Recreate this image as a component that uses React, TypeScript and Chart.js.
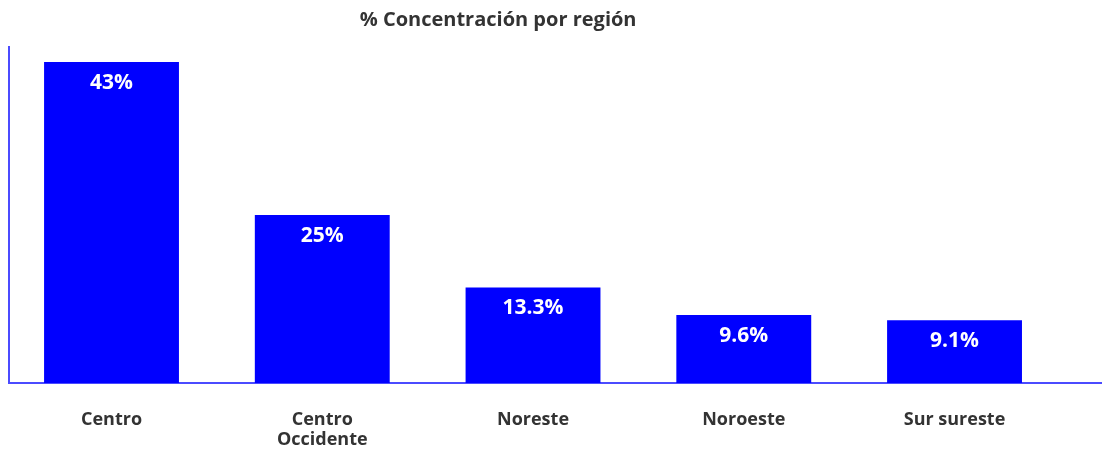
import React, { useEffect, useRef } from "react";
import { Chart, registerables } from "chart.js";

Chart.register(...registerables);

const categories: (string | string[])[] = ["Centro", ["Centro", "Occidente"], "Noreste", "Noroeste", "Sur sureste"];
const barValues: number[] = [43, 22.5, 12.8, 9.1, 8.4];
const valueLabels: string[] = ["43%", "25%", "13.3%", "9.6%", "9.1%"];
const titleText = "% Concentración por región";

const FONT = "'Open Sans', 'Noto Sans', sans-serif";
const BLUE = "#0000ff";
const AXIS = "#4b4bff";
const TEXT = "#333333";

export default function App() {
  const ref = useRef<HTMLCanvasElement | null>(null);

  useEffect(() => {
    document.body.style.margin = "0";
    const canvas = ref.current;
    if (!canvas) return;

    const labelPlugin = {
      id: "barLabels",
      afterDatasetsDraw(chart: any) {
        const ctx = chart.ctx;
        const meta = chart.getDatasetMeta(0);
        ctx.save();
        ctx.fillStyle = "#ffffff";
        ctx.font = `bold 21px ${FONT}`;
        ctx.textAlign = "center";
        ctx.textBaseline = "middle";
        meta.data.forEach((el: any, i: number) => {
          ctx.fillText(valueLabels[i], el.x, el.y + 21);
        });
        ctx.restore();
      },
    };

    const titlePlugin = {
      id: "customTitle",
      afterDraw(chart: any) {
        const ctx = chart.ctx;
        ctx.save();
        ctx.fillStyle = TEXT;
        ctx.font = `bold 20px ${FONT}`;
        ctx.textAlign = "center";
        ctx.textBaseline = "middle";
        ctx.fillText(titleText, chart.width * 0.452, 20);
        ctx.restore();
      },
    };

    const chart = new Chart(canvas, {
      type: "bar",
      data: {
        datasets: [
          {
            data: barValues.map((v, i) => ({ x: i, y: v })),
            backgroundColor: BLUE,
            borderWidth: 0,
            barPercentage: 0.8,
            categoryPercentage: 0.8,
          },
        ],
      },
      options: {
        animation: false,
        responsive: false,
        maintainAspectRatio: false,
        layout: { padding: { left: 9, top: 47, right: 0, bottom: 0 } },
        plugins: {
          legend: { display: false },
          title: { display: false },
          tooltip: { enabled: false },
        },
        scales: {
          x: {
            type: "linear",
            offset: false,
            min: -0.4864,
            max: 4.6997,
            grid: { display: false },
            border: { display: true, color: AXIS, width: 2 },
            afterFit: (s: any) => {
              s.height = 66;
            },
            ticks: {
              stepSize: 1,
              includeBounds: false,
              autoSkip: false,
              maxRotation: 0,
              padding: 19,
              color: TEXT,
              font: { family: FONT, size: 18, weight: "bold", lineHeight: 1.12 },
              callback: (v: any) => {
                const n = Number(v);
                return Number.isInteger(n) && categories[n] !== undefined ? categories[n] : "";
              },
            },
          },
          y: {
            min: 0,
            max: 45,
            grid: { display: false },
            border: { display: true, color: AXIS, width: 2 },
            ticks: { display: false },
            afterFit: (s: any) => {
              s.width = 0;
            },
          },
        },
      },
      plugins: [labelPlugin, titlePlugin],
    } as any);

    return () => chart.destroy();
  }, []);

  return (
    <div style={{ width: 1102, height: 449 }}>
      <canvas ref={ref} width={1102} height={449} style={{ display: "block" }} />
    </div>
  );
}
